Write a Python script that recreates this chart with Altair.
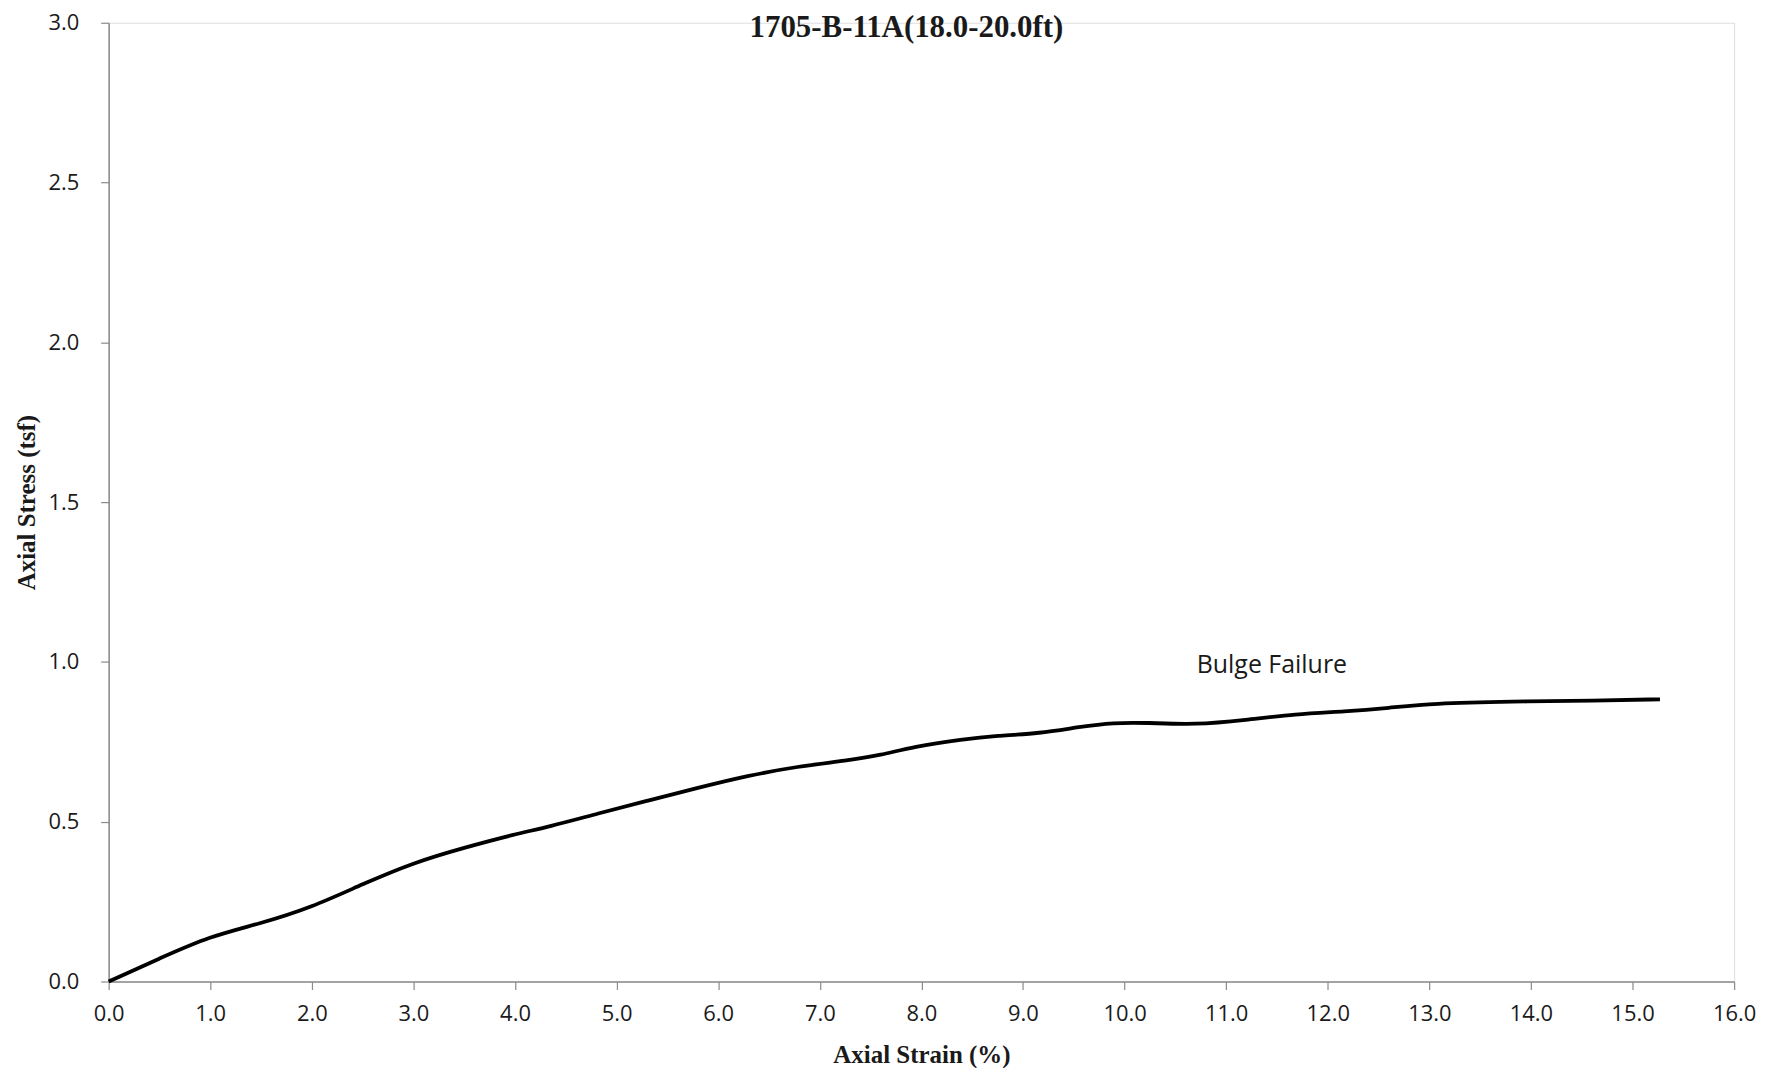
import altair as alt
import pandas as pd

# Data
strain = [0.0, 0.5, 1.0, 1.48, 2.0, 2.5, 3.0, 3.5, 4.0, 4.33, 4.82, 5.31, 5.8,
          6.29, 6.78, 7.27, 7.6, 7.92, 8.41, 8.74, 9.16, 9.56, 9.89, 10.21,
          10.7, 11.19, 11.68, 12.17, 12.6, 13.03, 13.81, 14.63, 15.27]
stress = [0.0, 0.072, 0.142, 0.18, 0.232, 0.305, 0.372, 0.419, 0.461, 0.484,
          0.526, 0.566, 0.606, 0.644, 0.673, 0.691, 0.708, 0.735, 0.758, 0.769,
          0.776, 0.797, 0.810, 0.810, 0.803, 0.818, 0.837, 0.845, 0.856, 0.870,
          0.876, 0.879, 0.883]

x_ticks = [float(v) for v in range(0, 17)]
y_ticks = [0.0, 0.5, 1.0, 1.5, 2.0, 2.5, 3.0]

note_text = ["Bulge Failure"]
note_x = [11.45]
note_y = [0.99]

title_text = "1705-B-11A(18.0-20.0ft)"

df = pd.DataFrame({"strain": strain, "stress": stress})
notes = pd.DataFrame({"text": note_text, "x": note_x, "y": note_y})

TICK_FONT = "Open Sans"
SERIF = "Liberation Serif"
AXIS_GRAY = "#8a8a8a"

x_enc = alt.X(
    "strain:Q",
    scale=alt.Scale(domain=[0, 16], nice=False, zero=False),
    axis=alt.Axis(
        title="Axial Strain (%)",
        values=x_ticks,
        format=".1f",
        grid=False,
        domainColor=AXIS_GRAY,
        domainWidth=1.5,
        tickColor=AXIS_GRAY,
        tickSize=8,
        tickWidth=1.2,
        labelFont=TICK_FONT,
        labelFontSize=22,
        labelColor="#1a1a1a",
        labelPadding=14,
        labelFlush=False,
        labelOverlap=False,
        titleFont=SERIF,
        titleFontSize=25,
        titleFontWeight="bold",
        titleColor="#1a1a1a",
        titlePadding=18,
    ),
)

y_enc = alt.Y(
    "stress:Q",
    scale=alt.Scale(domain=[0, 3], nice=False),
    axis=alt.Axis(
        title="Axial Stress (tsf)",
        values=y_ticks,
        format=".1f",
        grid=False,
        domainColor=AXIS_GRAY,
        domainWidth=1.5,
        tickColor=AXIS_GRAY,
        tickSize=8,
        tickWidth=1.2,
        labelFont=TICK_FONT,
        labelFontSize=22,
        labelColor="#1a1a1a",
        labelPadding=22,
        labelFlush=False,
        labelOverlap=False,
        titleFont=SERIF,
        titleFontSize=25,
        titleFontWeight="bold",
        titleColor="#1a1a1a",
        titlePadding=8,
    ),
)

line = alt.Chart(df).mark_line(
    color="black", strokeWidth=3.8, interpolate="basis"
).encode(x=x_enc, y=y_enc)

text = alt.Chart(notes).mark_text(
    font=TICK_FONT, fontSize=25, color="#1a1a1a", align="center", baseline="middle"
).encode(
    x=alt.X("x:Q", scale=alt.Scale(domain=[0, 16], nice=False, zero=False)),
    y=alt.Y("y:Q", scale=alt.Scale(domain=[0, 3], nice=False)),
    text="text:N",
)

chart = (
    alt.layer(line, text)
    .properties(
        width=1631,
        height=962,
        title=alt.TitleParams(
            text=title_text,
            font=SERIF,
            fontSize=31,
            fontWeight="bold",
            color="#1a1a1a",
            anchor="middle",
            frame="group",
            offset=-32,
            dx=-15,
        ),
        autosize=alt.AutoSizeParams(type="none"),
        padding={"left": 101, "top": 13, "right": 40, "bottom": 85},
    )
    .configure_view(stroke=None)
    .configure(background="white")
)

chart.save("out.html", embed_options={"renderer": "svg", "actions": False})
